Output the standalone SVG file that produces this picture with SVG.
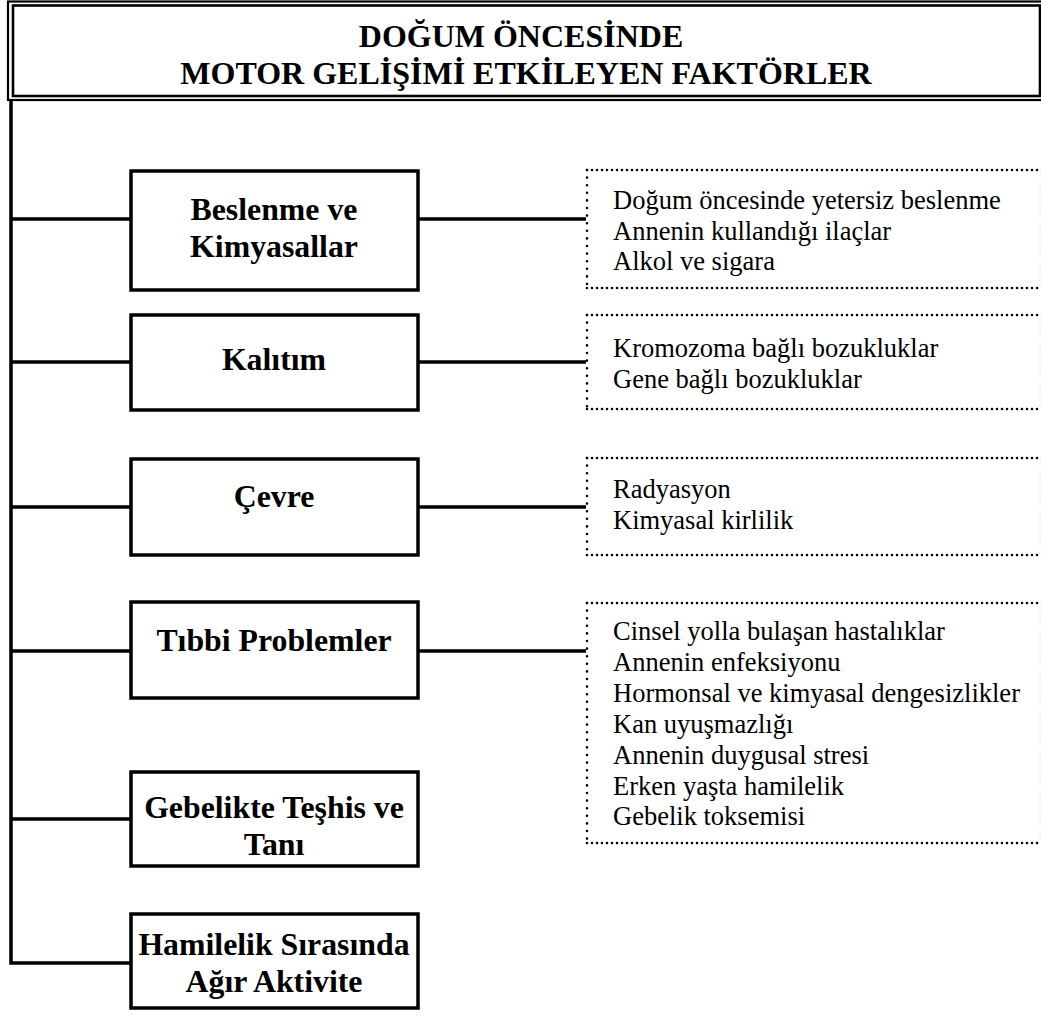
<svg xmlns="http://www.w3.org/2000/svg" width="1041" height="1016" viewBox="0 0 1041 1016">
  <style>
    .title { font-family: "Liberation Serif", "Times New Roman", serif; font-weight: bold; font-size: 32px; text-anchor: middle; fill: #000; }
    .node-box { fill: #fff; stroke: #000; stroke-width: 3.5; }
    .label { font-family: "Liberation Serif", "Times New Roman", serif; font-weight: bold; font-size: 31.8px; text-anchor: middle; fill: #000; }
    .item { font-family: "Liberation Serif", "Times New Roman", serif; font-size: 26.5px; fill: #000; }
    .wire { stroke: #000; stroke-width: 3.5; fill: none; }
    .dot-h { stroke: #000; stroke-width: 2.6; stroke-linecap: round; stroke-dasharray: 0 5; fill: none; }
    .dot-v { stroke: #000; stroke-width: 2.6; stroke-linecap: round; stroke-dasharray: 0 7.6; fill: none; }
    .dot-edge { stroke: #bbb; stroke-width: 1.2; stroke-linecap: round; stroke-dasharray: 0 5; fill: none; }
  </style>

  <!-- title frame (double border) -->
  <g id="title">
    <rect x="8" y="1.5" width="1040" height="98.5" fill="#fff" stroke="#000" stroke-width="2.2"/>
    <rect x="13" y="5.5" width="1027" height="90.5" fill="#fff" stroke="#000" stroke-width="2.6"/>
    <text class="title" x="521" y="47">DOĞUM ÖNCESİNDE</text>
    <text class="title" x="526" y="84">MOTOR GELİŞİMİ ETKİLEYEN FAKTÖRLER</text>
  </g>

  <!-- connectors: trunk, branches to categories, links to detail lists -->
  <g id="connectors">
    <path class="wire" d="M11 100 V963 H130"/>
    <path class="wire" d="M11 219 H130 M11 362 H130 M11 507 H130 M11 651 H130 M11 819 H130"/>
    <path class="wire" d="M418 219 H586 M418 362 H586 M418 507 H586 M418 651 H586"/>
  </g>

  <!-- category nodes -->
  <g id="node-beslenme">
    <rect class="node-box" x="131" y="171" width="287" height="119"/>
    <text class="label" x="274" y="220">Beslenme ve</text>
    <text class="label" x="274" y="257">Kimyasallar</text>
  </g>
  <g id="node-kalitim">
    <rect class="node-box" x="131" y="315" width="287" height="95"/>
    <text class="label" x="274" y="370">Kalıtım</text>
  </g>
  <g id="node-cevre">
    <rect class="node-box" x="131" y="459" width="287" height="96"/>
    <text class="label" x="274" y="507">Çevre</text>
  </g>
  <g id="node-tibbi">
    <rect class="node-box" x="131" y="602" width="287" height="96"/>
    <text class="label" x="274" y="651">Tıbbi Problemler</text>
  </g>
  <g id="node-gebelik">
    <rect class="node-box" x="131" y="772" width="287" height="94"/>
    <text class="label" x="274" y="818">Gebelikte Teşhis ve</text>
    <text class="label" x="274" y="855">Tanı</text>
  </g>
  <g id="node-hamilelik">
    <rect class="node-box" x="131" y="914" width="287" height="94"/>
    <text class="label" x="274" y="955">Hamilelik Sırasında</text>
    <text class="label" x="274" y="992">Ağır Aktivite</text>
  </g>

  <!-- detail lists (dotted frames) -->
  <g id="list-beslenme">
    <path class="dot-h" d="M587 170 H1040 M587 288 H1040"/>
    <path class="dot-v" d="M587 170 V288"/>
    <path class="dot-edge" d="M1040 170 V288"/>
    <text class="item" x="613" y="209">Doğum öncesinde yetersiz beslenme</text>
    <text class="item" x="613" y="240">Annenin kullandığı ilaçlar</text>
    <text class="item" x="613" y="270">Alkol ve sigara</text>
  </g>
  <g id="list-kalitim">
    <path class="dot-h" d="M587 315 H1040 M587 409 H1040"/>
    <path class="dot-v" d="M587 315 V409"/>
    <path class="dot-edge" d="M1040 315 V409"/>
    <text class="item" x="613" y="357">Kromozoma bağlı bozukluklar</text>
    <text class="item" x="613" y="388">Gene bağlı bozukluklar</text>
  </g>
  <g id="list-cevre">
    <path class="dot-h" d="M587 458 H1040 M587 555 H1040"/>
    <path class="dot-v" d="M587 458 V555"/>
    <path class="dot-edge" d="M1040 458 V555"/>
    <text class="item" x="613" y="498">Radyasyon</text>
    <text class="item" x="613" y="529">Kimyasal kirlilik</text>
  </g>
  <g id="list-tibbi">
    <path class="dot-h" d="M587 603 H1040 M587 843 H1040"/>
    <path class="dot-v" d="M587 603 V843"/>
    <path class="dot-edge" d="M1040 603 V843"/>
    <text class="item" x="613" y="640">Cinsel yolla bulaşan hastalıklar</text>
    <text class="item" x="613" y="671">Annenin enfeksiyonu</text>
    <text class="item" x="613" y="702">Hormonsal ve kimyasal dengesizlikler</text>
    <text class="item" x="613" y="733">Kan uyuşmazlığı</text>
    <text class="item" x="613" y="764">Annenin duygusal stresi</text>
    <text class="item" x="613" y="795">Erken yaşta hamilelik</text>
    <text class="item" x="613" y="825">Gebelik toksemisi</text>
  </g>
</svg>
